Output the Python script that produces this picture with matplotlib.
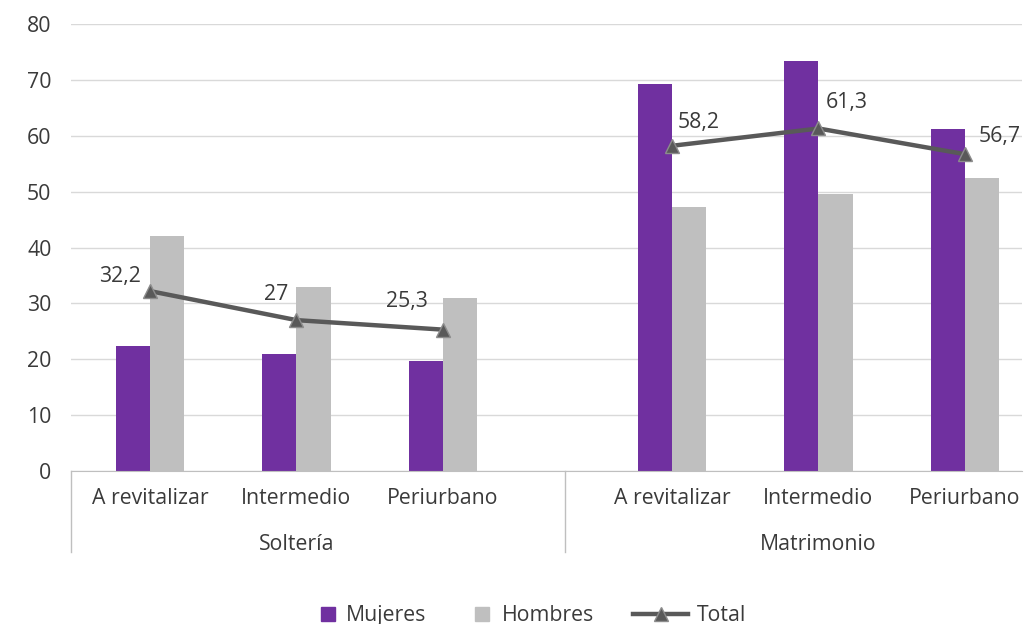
import matplotlib.pyplot as plt
from matplotlib.transforms import blended_transform_factory
from matplotlib.lines import Line2D
from matplotlib.patches import Rectangle

plt.rcParams['font.family'] = ['Open Sans', 'DejaVu Sans']

# data
groups = ['Soltería', 'Matrimonio']
zones = ['A revitalizar', 'Intermedio', 'Periurbano']
mujeres = [22.4, 21.0, 19.6, 69.3, 73.4, 61.2]
hombres = [42.1, 33.0, 31.0, 47.3, 49.5, 52.5]
total = [32.2, 27.0, 25.3, 58.2, 61.3, 56.7]
total_labels = ['32,2', '27', '25,3', '58,2', '61,3', '56,7']

# category centres (second group is set further right, like in the original)
pos = [0, 1, 2, 3.563, 4.563, 5.563]
group_centres = [1, 4.563]
dividers = [-0.539, 2.833]

purple = '#7030A0'
grey = '#BFBFBF'
line_col = '#595959'
edge_col = '#8c8c8c'
text_col = '#3a3a3a'
fs = 15.3

W, H = 1024, 624
fig = plt.figure(figsize=(W / 100, H / 100), dpi=100)
ax = fig.add_axes([71 / W, (H - 471) / H, (1022 - 71) / W, 447 / H])

w = 0.235
ax.bar([p - w / 2 for p in pos], mujeres, width=w, color=purple, zorder=2)
ax.bar([p + w / 2 for p in pos], hombres, width=w, color=grey, zorder=2)
# the total line is broken between the two groups
for sl in (slice(0, 3), slice(3, 6)):
    ax.plot(pos[sl], total[sl], color=line_col, lw=3.2, marker='^', markersize=10,
            markerfacecolor=line_col, markeredgecolor=edge_col, markeredgewidth=1, zorder=3)

# data labels, nudged like the original
offsets = [(-9, 4), (-8, 15), (-15, 18), (6, 13), (7, 15), (14, 7)]
for i, (p, v, t) in enumerate(zip(pos, total, total_labels)):
    dx, dy = offsets[i]
    ha = 'right' if dx < 0 else 'left'
    ax.annotate(t, (p, v), xytext=(dx, dy), textcoords='offset pixels',
                ha=ha, va='bottom', fontsize=fs, color=text_col, zorder=4)

ax.set_xlim(-0.539, 5.952)
ax.set_ylim(0, 80)
ax.set_yticks(range(0, 81, 10))
ax.grid(axis='y', color='#D9D9D9', lw=1, zorder=0)
ax.tick_params(axis='y', length=0, pad=14, labelsize=fs, labelcolor=text_col)
for s in ['top', 'right', 'left']:
    ax.spines[s].set_visible(False)
ax.spines['bottom'].set_color('#BFBFBF')

ax.set_xticks(pos, zones * 2)
ax.tick_params(axis='x', length=0, pad=12, labelsize=fs, labelcolor=text_col)

trans = blended_transform_factory(ax.transData, ax.transAxes)
for d in dividers:
    ax.plot([d, d], [0, -81 / 447], transform=trans, color='#BFBFBF', lw=1, clip_on=False)
for g, c in zip(groups, group_centres):
    ax.text(c, -73 / 447, g, transform=trans, ha='center', va='center',
            fontsize=fs, color=text_col)

# legend drawn by hand so the line key can be longer than the square keys
base = 1 - 621 / H
ly = 1 - 614 / H
sq = 14
fig.add_artist(Rectangle((321 / W, base), sq / W, sq / H, color=purple))
fig.text(346 / W, base, 'Mujeres', va='baseline', fontsize=fs, color=text_col)
fig.add_artist(Rectangle((475 / W, base), sq / W, sq / H, color=grey))
fig.text(502 / W, base, 'Hombres', va='baseline', fontsize=fs, color=text_col)
fig.add_artist(Line2D([633 / W, 688 / W], [ly, ly], color=line_col, lw=3.2))
fig.add_artist(Line2D([660.5 / W], [ly], marker='^', markersize=10, color=line_col,
                      markeredgecolor=edge_col, markeredgewidth=1))
fig.text(697 / W, base, 'Total', va='baseline', fontsize=fs, color=text_col)

fig.savefig('out.png', dpi=100)
